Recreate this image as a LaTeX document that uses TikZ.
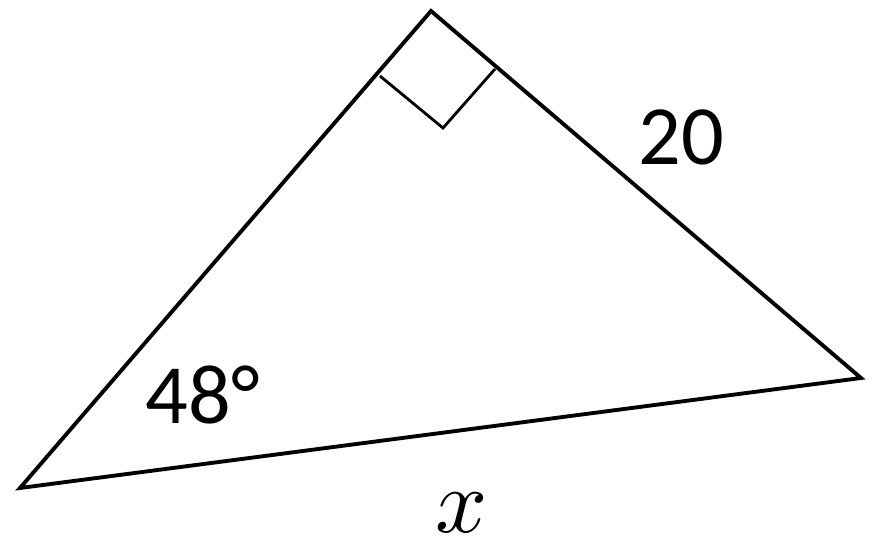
\documentclass[tikz,border=0pt]{standalone}
\usepackage{graphicx}
\usepackage{fontspec}
\setmainfont{Carlito}
\begin{document}
\begin{tikzpicture}[x=0.02cm, y=-0.02cm, line width=2.2pt]
          \useasboundingbox (0,0) rectangle (869,541);
          \coordinate (A) at (20,488);
          \coordinate (B) at (431,11);
          \coordinate (C) at (861,378);
          \draw [line join=miter] (A) -- (B) -- (C) -- cycle;
          \draw [line width=1.6pt] (380,76) -- (443,128) -- (495,69);
          \node (side) at (681,137) {\fontsize{48}{50}\selectfont 20};
          \node (angle) at (203,395) {\fontsize{48}{50}\selectfont 48°};
          \node [inner sep=0] (base) at (462,513) {\scalebox{5.2}{$x$}};
        \end{tikzpicture}
\end{document}
